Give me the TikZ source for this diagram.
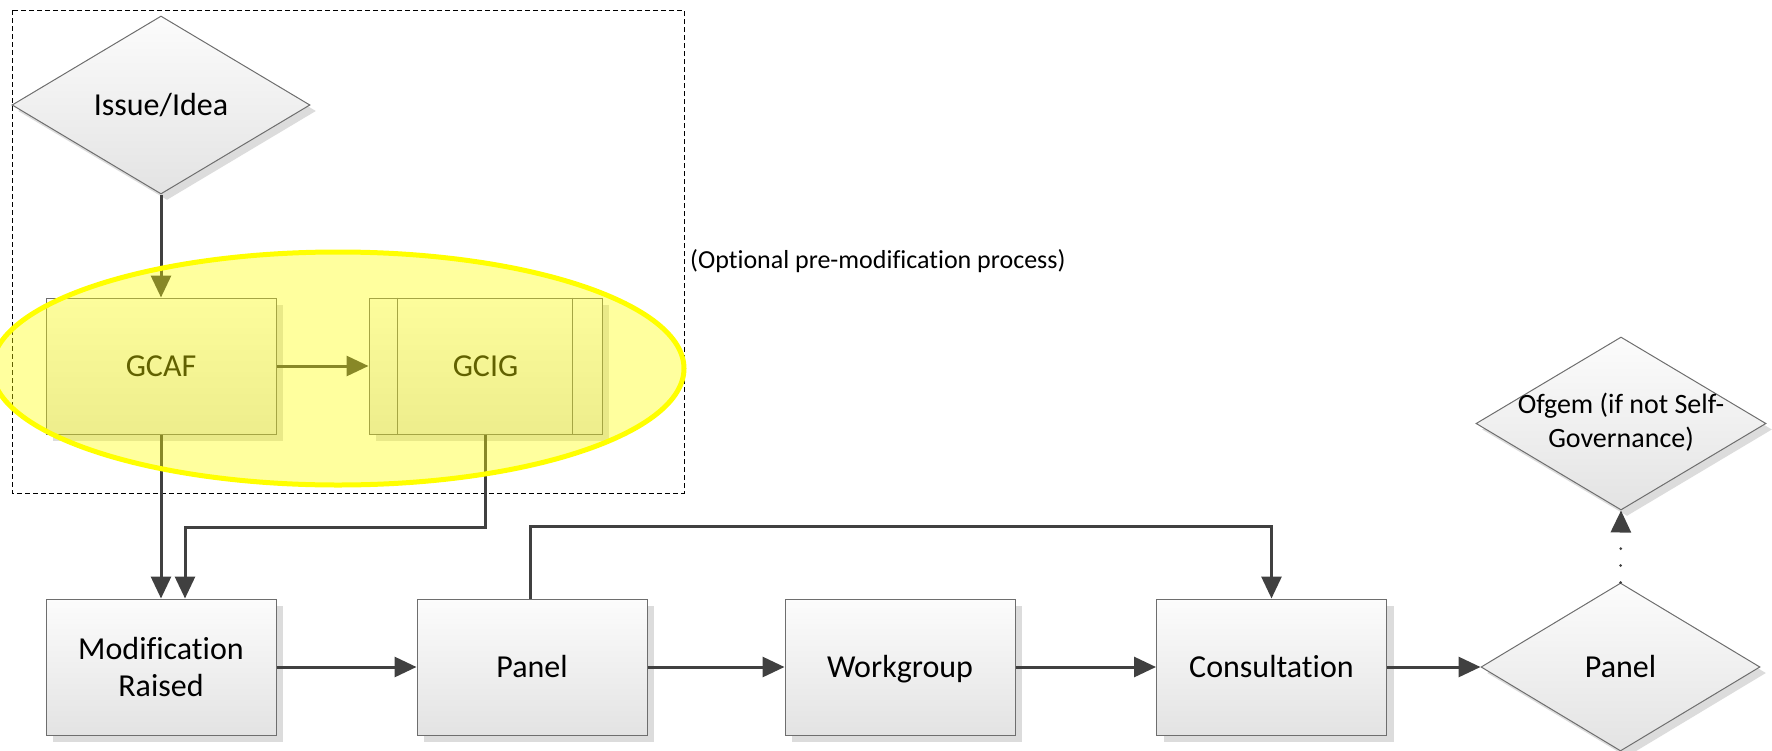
\documentclass[tikz,border=0pt]{standalone}
\usepackage{fontspec}
\setmainfont{Carlito}[Ligatures=NoCommon]
\usetikzlibrary{arrows.meta,shapes.geometric,shadows}
\definecolor{linec}{HTML}{404040}
\definecolor{bordc}{HTML}{6E6E6E}
\definecolor{topc}{HTML}{FCFCFC}
\definecolor{botc}{HTML}{E3E3E3}
\definecolor{shadc}{HTML}{DCDCDC}
\definecolor{yelc}{HTML}{FFFF00}
\begin{document}
\begin{tikzpicture}[x=1pt,y=-1pt,
  procbox/.style={draw=bordc, line width=1pt, top color=topc, bottom color=botc,
    minimum width=230pt, minimum height=136pt, inner sep=0pt, align=center,
    font=\fontsize{32}{37}\selectfont,
    general shadow={fill=shadc, shadow xshift=7pt, shadow yshift=-7pt}},
  oneline/.style={text height=23pt, text depth=2pt},
  decision/.style={shape=diamond, aspect=1.7, draw=bordc, line width=1pt,
    top color=topc, bottom color=botc, inner sep=0pt,
    font=\fontsize{32}{37}\selectfont,
    general shadow={fill=shadc, shadow xshift=6pt, shadow yshift=-6pt}},
  arr/.style={draw=linec, line width=3pt, -{Triangle[length=22pt,width=20pt]}}
]
\useasboundingbox (0,0) rectangle (1772,750);

% dashed frame
\draw[black, line width=1pt, dash pattern=on 5pt off 3pt] (12,10) rectangle (684,493);
\node[anchor=west, font=\fontsize{26}{30}\selectfont, inner sep=0pt] (opt) at (690,261) {(Optional pre-modification process)};

% nodes
\node[decision, minimum width=298pt, minimum height=178pt] (issue) at (161,105) {\makebox[0pt]{\raisebox{-2pt}{Issue/Idea}}};
\node[procbox, oneline] (gcaf) at (161,366) {GCAF};
\node[procbox, oneline, minimum width=233pt] (gcig) at (485.5,366) {GCIG};
\draw[bordc, line width=1pt] ([xshift=29pt]gcig.north west) -- ([xshift=29pt]gcig.south west);
\draw[bordc, line width=1pt] ([xshift=-30pt]gcig.north east) -- ([xshift=-30pt]gcig.south east);

\node[procbox] (mod) at (161,667) {Modification\\Raised};
\node[procbox, oneline] (panel) at (532,667) {Panel};
\node[procbox, oneline] (wg) at (900,667) {Workgroup};
\node[procbox, oneline] (cons) at (1271.5,667) {Consultation};
\node[decision, minimum width=279pt, minimum height=168pt] (pdec) at (1620.5,667) {\makebox[0pt]{\raisebox{1pt}{Panel}}};
\node[decision, minimum width=290pt, minimum height=173pt, font=\fontsize{28}{34}\selectfont] (ofgem) at (1621,423.5)
  {\makebox[0pt]{\raisebox{-4pt}{\begin{tabular}{@{}c@{}}Ofgem (if not Self-\\Governance)\end{tabular}}}};

% connectors
\draw[arr] (issue.south) -- (gcaf.north);
\draw[arr] (gcaf.east) -- (gcig.west);
\draw[arr] (gcaf.south) -- (mod.north);
\draw[arr] (gcig.south) -- ++(0,93) -| ([xshift=24pt]mod.north);
\draw[arr] (mod.east) -- (panel.west);
\draw[arr] (panel.east) -- (wg.west);
\draw[arr] (wg.east) -- (cons.west);
\draw[arr] (cons.east) -- (pdec.west);
\draw[arr] ([xshift=-2pt]panel.north) -- ++(0,-72) -| (cons.north);
\draw[draw=linec, line width=3pt, line cap=round, dash pattern=on 0pt off 17pt,
  -{Triangle[length=22pt,width=20pt]}] (pdec.north) -- (ofgem.south);

% yellow highlight
\draw[draw=yelc, line width=5pt, fill=yelc, fill opacity=0.38] (338,368.5) ellipse [x radius=346pt, y radius=116.5pt];
\end{tikzpicture}
\end{document}
